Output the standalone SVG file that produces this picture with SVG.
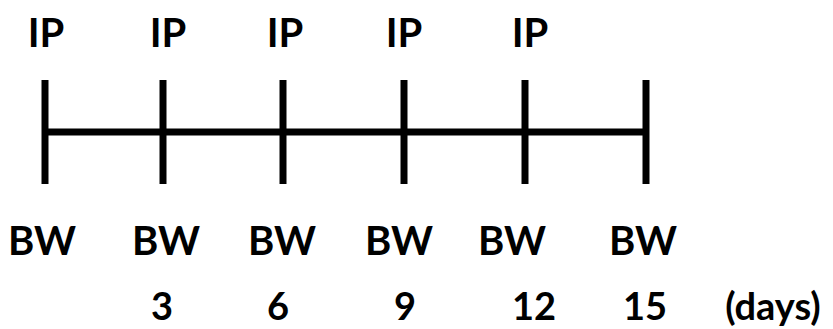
<svg xmlns="http://www.w3.org/2000/svg" width="833" height="329" viewBox="0 0 833 329">
<style>
text{font-family:Lato,"Open Sans","Liberation Sans",sans-serif;font-weight:bold;font-size:40px;fill:#000;text-anchor:middle}
.num{font-size:38px}
.ln{stroke:#000;stroke-width:7;fill:none}
</style>
<rect width="833" height="329" fill="#fff"/>
<g id="connectors">
<line class="ln" x1="45" y1="132" x2="646" y2="132"/>
</g>
<g id="tick0"><line class="ln" x1="45" y1="80" x2="45" y2="184"/><text x="46" y="47">IP</text><text x="42" y="255">BW</text></g>
<g id="tick3"><line class="ln" x1="163" y1="80" x2="163" y2="184"/><text x="168" y="47">IP</text><text x="166" y="255">BW</text><text class="num" x="162" y="320">3</text></g>
<g id="tick6"><line class="ln" x1="283" y1="80" x2="283" y2="184"/><text x="285" y="47">IP</text><text x="282" y="255">BW</text><text class="num" x="278" y="320">6</text></g>
<g id="tick9"><line class="ln" x1="404" y1="80" x2="404" y2="184"/><text x="404" y="47">IP</text><text x="399" y="255">BW</text><text class="num" x="405" y="320">9</text></g>
<g id="tick12"><line class="ln" x1="525" y1="80" x2="525" y2="184"/><text x="530" y="47">IP</text><text x="512" y="255">BW</text><text class="num" x="534" y="320">12</text></g>
<g id="tick15"><line class="ln" x1="646" y1="80" x2="646" y2="184"/><text x="643" y="255">BW</text><text class="num" x="645" y="320">15</text></g>
<g id="unit"><text class="num" x="773" y="320">(days)</text></g>
</svg>
